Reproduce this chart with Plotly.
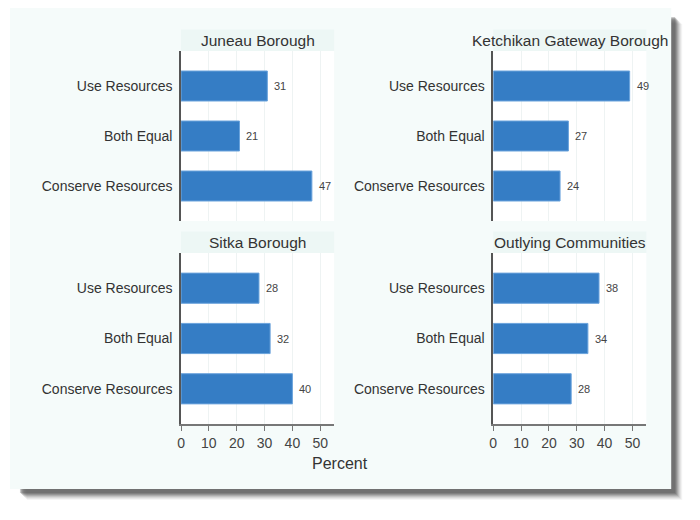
import plotly.graph_objects as go

categories = ["Conserve Resources", "Both Equal", "Use Resources"]
panels = ["Juneau Borough", "Ketchikan Gateway Borough", "Sitka Borough", "Outlying Communities"]
juneau = [47, 21, 31]
ketchikan = [24, 27, 49]
sitka = [40, 32, 28]
outlying = [28, 34, 38]
series = [juneau, ketchikan, sitka, outlying]
x_ticks = [0, 10, 20, 30, 40, 50]
x_title = "Percent"

W, H = 700, 520
OFFX, OFFY = 9, 8  # page body margin offset
def px(x):
    return (x - OFFX) / W
def py(y):
    return 1 - (y - OFFY) / H

xdom = [(px(179), px(333)), (px(493), px(647))]
ydom = [(py(221), py(51)), (py(424), py(253))]
ytop = [51, 253]

BAR = "#357dc5"
EDGE = "#6aa3dc"
FONT = "Liberation Sans, Arial, sans-serif"

fig = go.Figure()
shapes = []
annotations = []

# soft drop shadow + panel
for d, op in [(15, 0.06), (14, 0.08), (13, 0.1), (12, 0.15), (11, 0.2),
              (10, 0.25), (9, 0.3), (8, 0.3)]:
    shapes.append(dict(type="rect", xref="paper", yref="paper", layer="below",
                       x0=px(7 + d + 2), x1=px(672 + d - 4), y0=py(489 + d - 4), y1=py(7 + d + 2),
                       fillcolor=f"rgba(80,80,80,{op})", line=dict(width=0)))
shapes.append(dict(type="rect", xref="paper", yref="paper", layer="below",
                   x0=px(7), x1=px(672), y0=py(489), y1=py(7),
                   fillcolor="#f5fbfa", line=dict(width=0)))

for k in range(4):
    r, c = divmod(k, 2)
    ax = "" if k == 0 else str(k + 1)
    xa, ya = "x" + ax, "y" + ax
    vals = series[k]
    fig.add_trace(go.Bar(
        x=vals, y=categories, orientation="h", xaxis=xa, yaxis=ya,
        marker=dict(color=BAR, line=dict(color=EDGE, width=1)),
        width=0.6, hoverinfo="x+y", showlegend=False))
    for cat, v in zip(categories, vals):
        annotations.append(dict(x=v, y=cat, xref=xa, yref=ya, text=str(v),
                                showarrow=False, xanchor="left", xshift=5,
                                font=dict(family=FONT, size=11, color="#444")))
    x0, x1 = xdom[c]
    y0, y1 = ydom[r]
    shapes.append(dict(type="rect", xref="paper", yref="paper", layer="below",
                       x0=x0, x1=x1, y0=y0, y1=y1, fillcolor="white", line=dict(width=0)))
    t = ytop[r]
    shapes.append(dict(type="rect", xref="paper", yref="paper", layer="below",
                       x0=x0, x1=x1, y0=py(t), y1=py(t - 21.5),
                       fillcolor="#edf7f5", line=dict(width=0)))
    annotations.append(dict(x=(x0 + x1) / 2, y=py(t - 10.5), xref="paper", yref="paper",
                            text=panels[k], showarrow=False, xanchor="center", yanchor="middle",
                            font=dict(family=FONT, size=15.5, color="#333")))
    bottom = r == 1
    fig.update_layout(**{
        "xaxis" + ax: dict(domain=[x0, x1], range=[0, 55], anchor=ya,
                           tickvals=x_ticks, showticklabels=bottom,
                           ticks="outside" if bottom else "", ticklen=5, tickcolor="#777",
                           showline=bottom, linecolor="#777", linewidth=1.5,
                           showgrid=True, gridcolor="#eef3f3", gridwidth=1,
                           zeroline=False, fixedrange=True,
                           tickfont=dict(family=FONT, size=14, color="#444")),
        "yaxis" + ax: dict(domain=[y0, y1], range=[-0.7, 2.7], anchor=xa,
                           type="category", categoryorder="array", categoryarray=categories,
                           showline=True, linecolor="#555", linewidth=1.5,
                           showgrid=False, zeroline=False, ticks="outside", ticklen=4,
                           tickcolor="rgba(0,0,0,0)", fixedrange=True,
                           tickfont=dict(family=FONT, size=14, color="#333")),
    })

annotations.append(dict(x=px(339), y=py(463), xref="paper", yref="paper", text=x_title,
                        showarrow=False, xanchor="center", yanchor="middle",
                        font=dict(family=FONT, size=16, color="#333")))

fig.update_layout(width=W, height=H, margin=dict(l=0, r=0, t=0, b=0),
                  paper_bgcolor="white", plot_bgcolor="rgba(0,0,0,0)",
                  shapes=shapes, annotations=annotations, bargap=0.4,
                  font=dict(family=FONT))
fig.write_html("out.html")
